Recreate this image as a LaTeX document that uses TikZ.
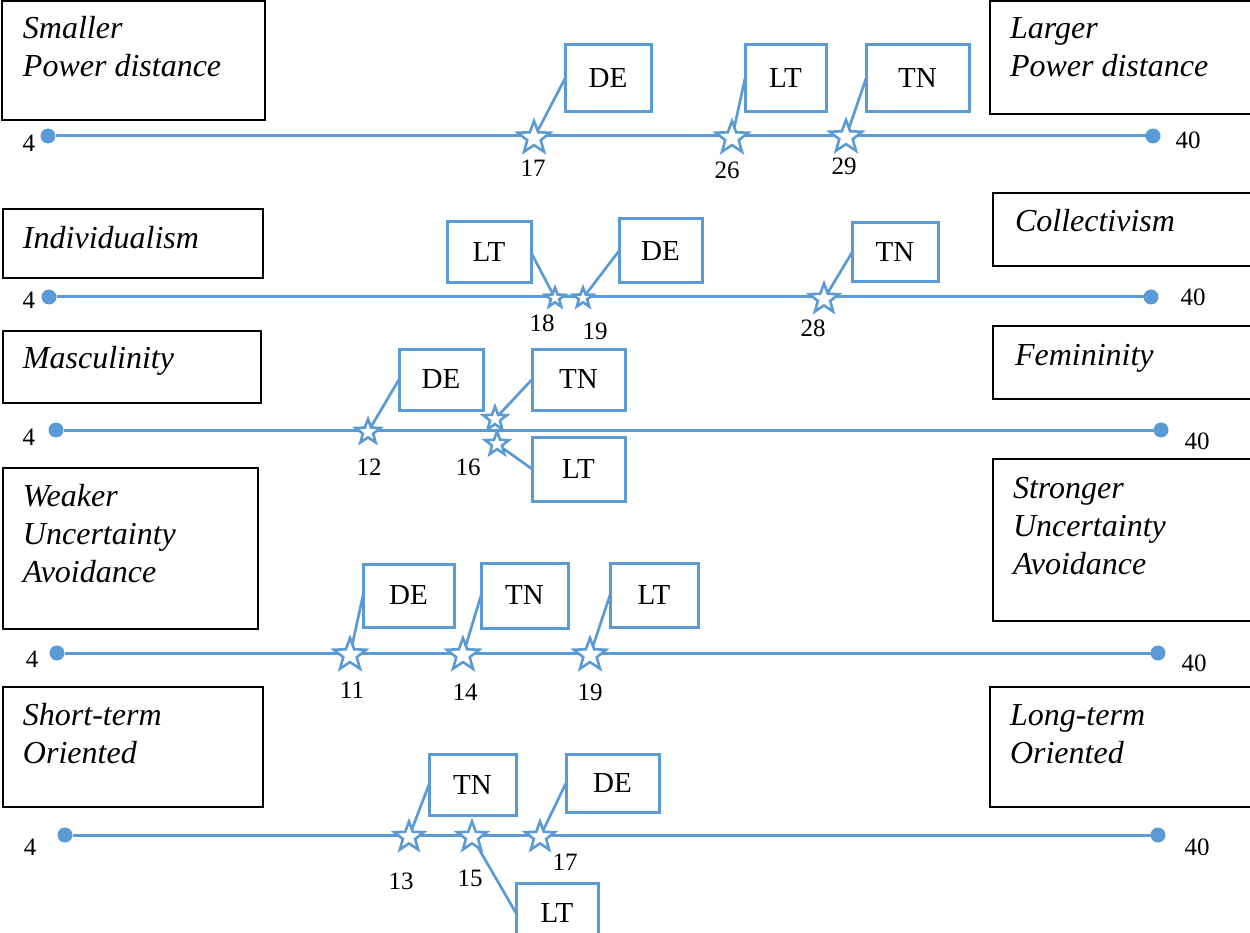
\documentclass[tikz,border=0pt]{standalone}
\usepackage{fontspec}
\setmainfont{Liberation Serif}
\usetikzlibrary{shapes.geometric}
\definecolor{markblue}{RGB}{91,155,213}

% blue tag box: name, x1, y1, x2, y2, text
\newcommand{\tagBox}[6]{\node[tagbox, minimum width={#4-#2}, minimum height={#5-#3}] (#1) at ({(#2+#4)/2},{(#3+#5)/2}) {#6};}
% black pole box: name, x1, y1, x2, y2
\newcommand{\poleBox}[5]{\node[polebox, minimum width={#4-#2}, minimum height={#5-#3}] (#1) at ({(#2+#4)/2},{(#3+#5)/2}) {};}
% star marker: name, x, y, size
\newcommand{\starAt}[4]{\node[starmark, minimum size=#4] (#1) at (#2,#3) {};}

\tikzset{
  polebox/.style={draw=black, line width=1.8pt, inner sep=0pt, outer sep=0pt, rectangle},
  poletext/.style={anchor=north west, align=left, inner sep=0pt, outer sep=0pt,
    font=\fontsize{32}{38}\selectfont\itshape},
  tagbox/.style={draw=markblue, line width=3pt, inner sep=0pt, outer sep=0pt, rectangle,
    font=\fontsize{29}{34}\selectfont},
  enddot/.style={circle, fill=markblue, inner sep=0pt, outer sep=0pt, minimum size=15pt},
  axis/.style={draw=markblue, line width=3pt},
  connector/.style={draw=markblue, line width=2.7pt},
  starmark/.style={star, star points=5, star point ratio=2.4, inner sep=0pt, outer sep=0pt,
    draw=markblue, fill=white, line width=2.6pt},
  num/.style={inner sep=0pt, font=\fontsize{25}{30}\selectfont},
}

\begin{document}
\begin{tikzpicture}[x=1pt, y=-1pt]
\useasboundingbox (0,0) rectangle (1250,933);
\clip (0,0) rectangle (1250,933);

% ---------- Power distance ----------
\poleBox{L1}{2}{1}{265}{120}
\poleBox{R1}{990}{1}{1262}{114}
\node[poletext] (tL1) at (23,12.4) {\strut Smaller\\Power distance};
\node[poletext] (tR1) at (1010,12.4) {\strut Larger\\Power distance};
\node[enddot] (a1) at (48,136) {};
\node[enddot] (b1) at (1153,136) {};
\draw[axis] (a1) -- (b1);
\node[num] (lo1) at (29,143) {4};
\node[num] (hi1) at (1188,140) {40};
\tagBox{de1}{565}{45}{651}{112}{DE}
\tagBox{lt1}{745}{45}{826}{112}{LT}
\tagBox{tn1}{866}{45}{969}{112}{TN}
\starAt{s1de}{534}{138}{34}
\starAt{s1lt}{732}{138}{34}
\starAt{s1tn}{846}{137}{34}
\draw[connector] (de1.west) -- (s1de);
\draw[connector] (lt1.west) -- (s1lt);
\draw[connector] (tn1.west) -- (s1tn);
\node[num] (v1de) at (533,168) {17};
\node[num] (v1lt) at (727,170) {26};
\node[num] (v1tn) at (844,166) {29};

% ---------- Individualism / Collectivism ----------
\poleBox{L2}{3}{209}{263}{278}
\poleBox{R2}{993}{193}{1262}{266}
\node[poletext] (tL2) at (23,222.4) {\strut Individualism};
\node[poletext] (tR2) at (1015,205.4) {\strut Collectivism};
\node[enddot] (a2) at (49,297) {};
\node[enddot] (b2) at (1151,297) {};
\draw[axis] (a2) -- (b2);
\node[num] (lo2) at (29,300) {4};
\node[num] (hi2) at (1193,297) {40};
\tagBox{lt2}{447}{222}{531}{283}{LT}
\tagBox{de2}{619}{219}{702}{283}{DE}
\tagBox{tn2}{852}{223}{938}{282}{TN}
\starAt{s2lt}{555}{298}{21}
\starAt{s2de}{583}{298}{21}
\starAt{s2tn}{824}{299}{31}
\draw[connector] (lt2.east) -- (s2lt);
\draw[connector] (de2.west) -- (s2de);
\draw[connector] (tn2.west) -- (s2tn);
\node[num] (v2lt) at (542,323) {18};
\node[num] (v2de) at (595,331) {19};
\node[num] (v2tn) at (813,328) {28};

% ---------- Masculinity / Femininity ----------
\poleBox{L3}{3}{331}{261}{403}
\poleBox{R3}{993}{326}{1262}{399}
\node[poletext] (tL3) at (23,341.4) {\strut Masculinity};
\node[poletext] (tR3) at (1015,338.4) {\strut Femininity};
\node[enddot] (a3) at (56,430) {};
\node[enddot] (b3) at (1161,430) {};
\draw[axis] (a3) -- (b3);
\node[num] (lo3) at (29,437) {4};
\node[num] (hi3) at (1197,441) {40};
\tagBox{de3}{399}{349}{483}{410}{DE}
\tagBox{tn3}{532}{349}{625}{410}{TN}
\tagBox{lt3}{532}{437}{625}{501}{LT}
\starAt{s3de}{368}{432}{26}
\starAt{s3tn}{495}{419}{25}
\starAt{s3lt}{497}{444}{25}
\draw[connector] (de3.west) -- (s3de);
\draw[connector] (tn3.west) -- (s3tn);
\draw[connector] (lt3.west) -- (s3lt);
\node[num] (v3de) at (369,467) {12};
\node[num] (v3tl) at (468,467) {16};

% ---------- Uncertainty avoidance ----------
\poleBox{L4}{3}{468}{258}{629}
\poleBox{R4}{993}{459}{1262}{621}
\node[poletext] (tL4) at (23,479.4) {\strut Weaker\\Uncertainty\\Avoidance};
\node[poletext] (tR4) at (1013,471.4) {\strut Stronger\\Uncertainty\\Avoidance};
\node[enddot] (a4) at (57,653) {};
\node[enddot] (b4) at (1158,653) {};
\draw[axis] (a4) -- (b4);
\node[num] (lo4) at (32,659) {4};
\node[num] (hi4) at (1194,663) {40};
\tagBox{de4}{363}{564}{454}{627}{DE}
\tagBox{tn4}{481}{563}{568}{628}{TN}
\tagBox{lt4}{610}{563}{698}{627}{LT}
\starAt{s4de}{350}{655}{34}
\starAt{s4tn}{463}{655}{34}
\starAt{s4lt}{590}{655}{34}
\draw[connector] (de4.west) -- (s4de);
\draw[connector] (tn4.west) -- (s4tn);
\draw[connector] (lt4.west) -- (s4lt);
\node[num] (v4de) at (352,690) {11};
\node[num] (v4tn) at (465,692) {14};
\node[num] (v4lt) at (590,692) {19};

% ---------- Short-term / Long-term orientation ----------
\poleBox{L5}{3}{687}{263}{807}
\poleBox{R5}{990}{687}{1262}{807}
\node[poletext] (tL5) at (23,698.4) {\strut Short-term\\Oriented};
\node[poletext] (tR5) at (1010,698.4) {\strut Long-term\\Oriented};
\node[enddot] (a5) at (65,835) {};
\node[enddot] (b5) at (1158,835) {};
\draw[axis] (a5) -- (b5);
\node[num] (lo5) at (30,847) {4};
\node[num] (hi5) at (1197,847) {40};
\tagBox{tn5}{429}{754}{516}{815}{TN}
\tagBox{de5}{566}{754}{659}{812}{DE}
\tagBox{lt5}{516}{883}{598}{943}{LT}
\starAt{s5tn}{409}{837}{31}
\starAt{s5lt}{472}{837}{31}
\starAt{s5de}{540}{837}{31}
\draw[connector] (tn5.west) -- (s5tn);
\draw[connector] (de5.west) -- (s5de);
\draw[connector] (lt5.west) -- (s5lt);
\node[num] (v5tn) at (401,881) {13};
\node[num] (v5lt) at (470,878) {15};
\node[num] (v5de) at (565,862) {17};
\end{tikzpicture}
\end{document}
